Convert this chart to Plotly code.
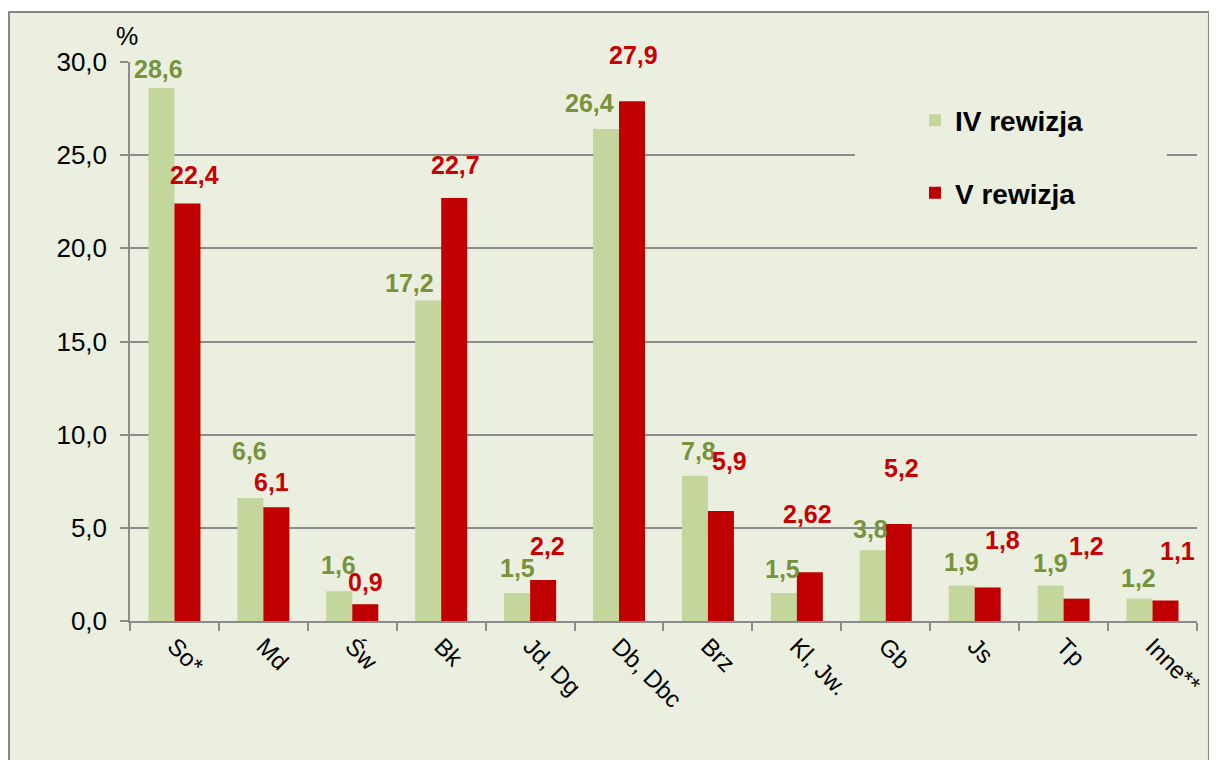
import plotly.graph_objects as go

categories = ["So*", "Md", "Św", "Bk", "Jd, Dg", "Db, Dbc", "Brz", "Kl, Jw.", "Gb", "Js", "Tp", "Inne**"]
rev4_values = [28.6, 6.6, 1.6, 17.2, 1.5, 26.4, 7.8, 1.5, 3.8, 1.9, 1.9, 1.2]
rev5_values = [22.4, 6.1, 0.9, 22.7, 2.2, 27.9, 5.9, 2.62, 5.2, 1.8, 1.2, 1.1]
rev4_labels = ["28,6", "6,6", "1,6", "17,2", "1,5", "26,4", "7,8", "1,5", "3,8", "1,9", "1,9", "1,2"]
rev5_labels = ["22,4", "6,1", "0,9", "22,7", "2,2", "27,9", "5,9", "2,62", "5,2", "1,8", "1,2", "1,1"]
y_ticks = [0, 5, 10, 15, 20, 25, 30]
y_tick_labels = ["0,0", "5,0", "10,0", "15,0", "20,0", "25,0", "30,0"]

# label placement tweaks (pixels): horizontal shift from bar centre, vertical shift above bar top
rev4_dx = [-3, -1, -1, -19, 0, -17, 4, -1, -2, 0, 0, -1]
rev4_dy = [19, 47, 26, 18, 25, 26, 25, 24, 21, 24, 23, 21]
rev5_dx = [7, -5, 0, 1, 4, 1, 9, -2, 3, 15, 10, 12]
rev5_dy = [29, 25, 22, 33, 34, 46, 50, 58, 56, 47, 53, 50]

BG = "#EBEFDF"
GREEN = "#C3D69B"
RED = "#C00000"
GREEN_TXT = "#77933C"
RED_TXT = "#C80000"
GRID = "#8C8C8C"
FONT = "Liberation Sans, Arial, sans-serif"

fig = go.Figure()
fig.add_trace(go.Bar(x=categories, y=rev4_values, name="IV rewizja",
                     marker=dict(color=GREEN, line=dict(width=0)),
                     legendgroup="a"))
fig.add_trace(go.Bar(x=categories, y=rev5_values, name="V rewizja",
                     marker=dict(color=RED, line=dict(width=0)),
                     legendgroup="b"))

annotations = []
for i, cat in enumerate(categories):
    annotations.append(dict(x=cat, y=rev4_values[i], xref="x", yref="y",
                            text=rev4_labels[i], showarrow=False,
                            xshift=-13 + rev4_dx[i], yshift=rev4_dy[i],
                            xanchor="center", yanchor="middle",
                            font=dict(family=FONT, size=25, color=GREEN_TXT, weight="bold")))
    annotations.append(dict(x=cat, y=rev5_values[i], xref="x", yref="y",
                            text=rev5_labels[i], showarrow=False,
                            xshift=13 + rev5_dx[i], yshift=rev5_dy[i],
                            xanchor="center", yanchor="middle",
                            font=dict(family=FONT, size=25, color=RED_TXT, weight="bold")))
annotations.append(dict(x=-0.0028, y=1.0465, xref="paper", yref="paper", text="%",
                        showarrow=False, xanchor="center", yanchor="middle",
                        font=dict(family=FONT, size=25, color="#000000")))

shapes = [
    dict(type="rect", xref="paper", yref="paper", x0=-0.1134, x1=1.0112, y0=-0.27, y1=1.0894,
         fillcolor=BG, line=dict(color="#868686", width=2), layer="below"),
    dict(type="rect", xref="paper", yref="paper", x0=0.6795, x1=0.9719, y0=0.726, y1=0.941,
         fillcolor=BG, line=dict(width=0), layer="above"),
]

fig.update_layout(
    width=1209, height=752,
    margin=dict(l=122, r=20, t=54, b=139),
    paper_bgcolor="white",
    plot_bgcolor="rgba(0,0,0,0)",
    barmode="group", bargap=0.415, bargroupgap=0,
    separators=", ",
    font=dict(family=FONT, color="#000000"),
    showlegend=True,
    legend=dict(x=0.7357, y=0.94, xanchor="left", yanchor="top",
                bgcolor="rgba(0,0,0,0)", traceorder="grouped", tracegroupgap=33,
                font=dict(family=FONT, size=28, color="#000000", weight="bold"),
                itemwidth=30),
    annotations=annotations,
    shapes=shapes,
)
fig.update_xaxes(showline=True, linecolor=GRID, linewidth=1.5,
                 ticks="outside", tickson="boundaries", ticklen=8, tickcolor=GRID, tickwidth=1.5,
                 tickangle=45, tickfont=dict(family=FONT, size=24, color="#000000"),
                 showgrid=False)
fig.update_yaxes(range=[0, 30], tickvals=y_ticks, ticktext=y_tick_labels,
                 showline=True, linecolor=GRID, linewidth=1.5,
                 ticks="outside", ticklen=8, tickcolor=GRID, tickwidth=1.5,
                 showgrid=True, gridcolor=GRID, gridwidth=1.5,
                 zeroline=False,
                 tickfont=dict(family=FONT, size=26, color="#000000"),
                 ticklabelstandoff=8)

fig.write_html("out.html")
